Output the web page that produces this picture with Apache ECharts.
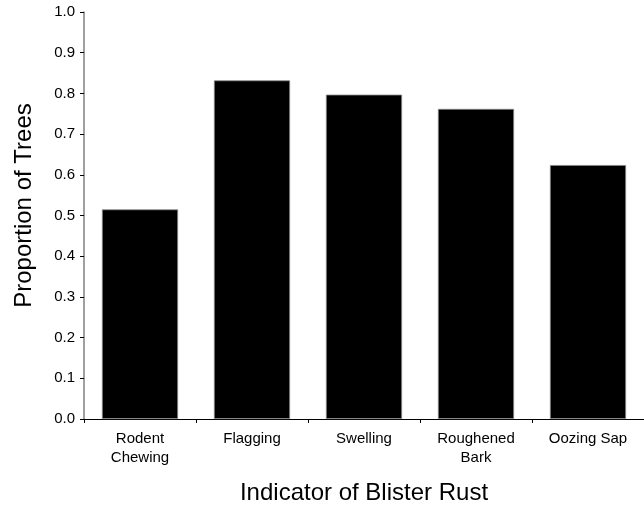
<!DOCTYPE html>
<html>
<head>
<meta charset="utf-8">
<script src="https://cdn.jsdelivr.net/npm/echarts@6/dist/echarts.min.js"></script>
<style>
    html, body { margin: 0; padding: 0; background: #fff; }
    #chart { width: 644px; height: 510px; }
</style>
</head>
<body>
<div id="chart"></div>
<script type="text/javascript">
    var categories = ['Rodent\nChewing', 'Flagging', 'Swelling', 'Roughened\nBark', 'Oozing Sap'];
    var proportions = [0.515, 0.832, 0.797, 0.762, 0.624];
    var yTicks = ['0.0', '0.1', '0.2', '0.3', '0.4', '0.5', '0.6', '0.7', '0.8', '0.9', '1.0'];

    var myChart = echarts.init(document.getElementById('chart'));
    var font = 'Liberation Sans, Arial, Helvetica, sans-serif';

    option = {
        animation: false,
        grid: { left: 84, top: 12, width: 563, bottom: 90, containLabel: false },
        xAxis: {
            type: 'category',
            data: categories,
            name: 'Indicator of Blister Rust',
            nameLocation: 'middle',
            nameGap: 62,
            nameTextStyle: { fontFamily: font, fontSize: 24, color: '#000' },
            axisLine: { lineStyle: { color: '#000', width: 1 } },
            axisTick: { show: true, length: 4, alignWithLabel: false, lineStyle: { color: '#000' } },
            axisLabel: { fontFamily: font, fontSize: 15, color: '#000', lineHeight: 19, margin: 10, interval: 0 }
        },
        yAxis: {
            type: 'value',
            min: 0,
            max: 1,
            interval: 0.1,
            name: 'Proportion of Trees',
            nameLocation: 'middle',
            nameGap: 48,
            nameTextStyle: { fontFamily: font, fontSize: 24, color: '#000', padding: [0, 0, 0, 20] },
            splitLine: { show: false },
            axisLine: { show: true, lineStyle: { color: '#808080', width: 1.5 } },
            axisTick: { show: true, length: 4, lineStyle: { color: '#000' } },
            axisLabel: {
                fontFamily: font, fontSize: 15, color: '#000', margin: 9,
                formatter: function (v) { return yTicks[Math.round(v * 10)]; }
            }
        },
        series: [
            {
                type: 'bar',
                data: proportions,
                barCategoryGap: '32%',
                itemStyle: { color: '#000', borderColor: '#888', borderWidth: 0.8 }
            }
        ]
    };
    myChart.setOption(option);
</script>
</body>
</html>
